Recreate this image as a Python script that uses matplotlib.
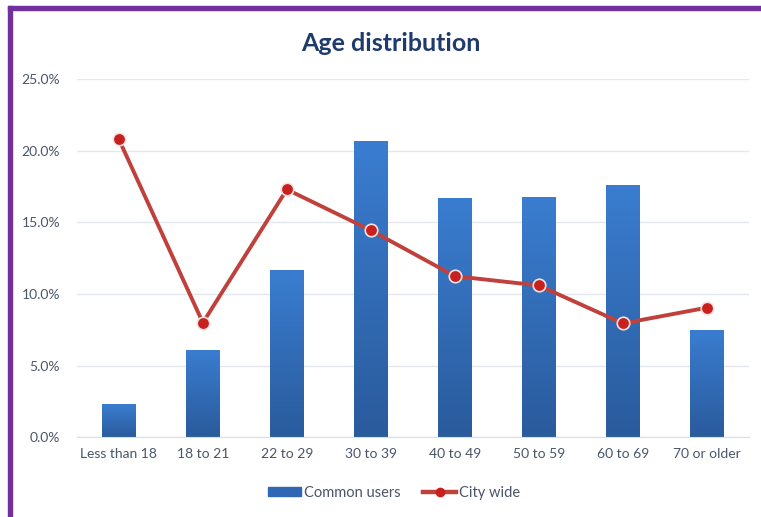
import matplotlib.pyplot as plt
import numpy as np
from matplotlib.lines import Line2D
from matplotlib.patches import Rectangle
from matplotlib.ticker import FuncFormatter
from matplotlib.colors import LinearSegmentedColormap

plt.rcParams['font.family'] = ['Lato', 'DejaVu Sans']

# data
categories = ["Less than 18", "18 to 21", "22 to 29", "30 to 39",
              "40 to 49", "50 to 59", "60 to 69", "70 or older"]
common_users = [2.3, 6.1, 11.7, 20.65, 16.7, 16.8, 17.6, 7.5]
city_wide = [20.8, 8.0, 17.3, 14.45, 11.25, 10.6, 7.95, 9.05]
y_ticks = [0, 5, 10, 15, 20, 25]

text_col = '#4A5568'

fig = plt.figure(figsize=(7.61, 5.17), dpi=100)
ax = fig.add_axes([0.101, 0.154, 0.883, 0.693])

x = np.arange(len(categories))
bars = ax.bar(x, common_users, width=0.4, color='#2F67B4', zorder=2,
              label='Common users')

# vertical gradient on each bar
grad = np.linspace(0, 1, 256).reshape(-1, 1)
cmap = LinearSegmentedColormap.from_list('bluegrad', ['#2A5B9C', '#3A7DD0'])
for b in bars:
    bx, by = b.get_x(), b.get_y()
    bw, bh = b.get_width(), b.get_height()
    im = ax.imshow(grad, extent=[bx, bx + bw, by, by + bh], origin='lower',
                   cmap=cmap, aspect='auto', zorder=2.1)
    im.set_clip_path(b)

ax.plot(x, city_wide, color='#C0413B', lw=2.8, marker='o', markersize=9,
        markerfacecolor='#C8201E', markeredgecolor='#F3E3DE',
        markeredgewidth=1.2, zorder=3, label='City wide')

ax.set_xlim(-0.5, len(categories) - 0.5)
ax.set_ylim(0, 25)
ax.set_yticks(y_ticks)
ax.yaxis.set_major_formatter(FuncFormatter(lambda v, p: f'{v:.1f}%'))
ax.set_xticks(x)
ax.set_xticklabels(categories)
ax.tick_params(length=0, labelsize=10, colors=text_col)
ax.tick_params(axis='y', pad=12)
ax.tick_params(axis='x', pad=8)
ax.grid(axis='y', color='#E3E8EF', lw=1, zorder=0)
ax.set_axisbelow(True)
for s in ['top', 'right', 'left']:
    ax.spines[s].set_visible(False)
ax.spines['bottom'].set_color('#D9DEE6')

fig.text(0.513, 0.916, 'Age distribution', ha='center', va='center',
         fontsize=18, fontweight='bold', color='#1F3B6E')

bar_handle = Rectangle((0, 0), 1, 1, color='#2F67B4')
line_handle = Line2D([], [], color='#C0413B', lw=3.2, marker='o',
                     markersize=6, markerfacecolor='#C8201E',
                     markeredgecolor='#C8201E')
fig.legend([bar_handle, line_handle], ['Common users', 'City wide'],
           loc='center', bbox_to_anchor=(0.518, 0.047), ncol=2, frameon=False,
           fontsize=10.5, labelcolor=text_col, handlelength=2.3,
           handleheight=0.5, handletextpad=0.2, columnspacing=1.5)

# purple frame on the left and top
fig.add_artist(Rectangle((0.0105, 0), 0.0055, 0.988, transform=fig.transFigure,
                         color='#7030A0', zorder=10))
fig.add_artist(Rectangle((0.0105, 0.981), 0.99, 0.008, transform=fig.transFigure,
                         color='#7030A0', zorder=10))

plt.savefig('out.png', dpi=100)
